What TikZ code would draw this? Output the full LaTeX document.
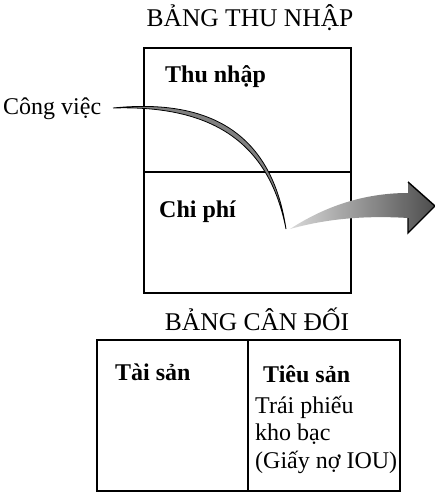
\documentclass[tikz,border=0pt]{standalone}
\usepackage{fontspec}
\setmainfont{Liberation Serif}
\usetikzlibrary{calc}

\begin{document}
\begin{tikzpicture}[x=1pt,y=-1pt,
	txt/.style={font=\fontsize{24}{28}\selectfont, inner sep=0pt, anchor=base west},
	btxt/.style={txt, font=\fontsize{24}{28}\selectfont\bfseries},
	heading/.style={txt, anchor=base, font=\fontsize{25.5}{30}\selectfont},
	frame/.style={line width=1.2pt}]
			%%%%% START %%%%%
			\useasboundingbox (0,0) rectangle (435,494);
			
			% bang thu nhap
			\node[heading] (incTitle) at (250, 27) {BẢNG THU NHẬP};
			\draw[frame] (144, 48) rectangle (351, 293);
			\draw[frame] (144, 172) -- (351, 172);
			\node[btxt] (income) at (165, 83) {Thu nhập};
			\node[btxt] (expense) at (159, 217) {Chi phí};
			\node[txt] (job) at (3, 115) {Công việc};
			
			% luong tien
			\coordinate (jobEnd) at (113, 108);
			\coordinate (flowEnd) at (286, 229);
			\draw[fill=black!50, line width=0.8pt] (jobEnd) .. controls (212, 98) and (272, 135) .. (flowEnd)
				.. controls (269, 142) and (212, 105) .. (jobEnd);
			
			\coordinate (outTail) at (290, 229);
			\coordinate (outTip) at (435, 206);
			\shade[left color=black!15, right color=black!70] (outTail) .. controls (330, 203) and (370, 193) .. (408, 193)
				-- (408, 182) -- (outTip) -- (408, 233) -- (408, 218)
				.. controls (360, 215) and (322, 220) .. (outTail) -- cycle;
			\draw[line width=1.4pt] (408, 182) -- (outTip) -- (408, 233) -- (408, 218);
			
			% bang can doi
			\node[heading] (balTitle) at (257, 330) {BẢNG CÂN ĐỐI};
			\draw[frame] (97, 340) rectangle (400, 491);
			\draw[frame] (248, 340) -- (248, 491);
			\node[btxt] (assets) at (115, 380) {Tài sản};
			\node[btxt] (debts) at (263, 382) {Tiêu sản};
			\node[txt] (bond1) at (255, 413) {Trái phiếu};
			\node[txt] (bond2) at (255, 440) {kho bạc};
			\node[txt] (bond3) at (255, 468) {(Giấy nợ IOU)};
			
			%%%%% END %%%%%
\end{tikzpicture}
\end{document}
